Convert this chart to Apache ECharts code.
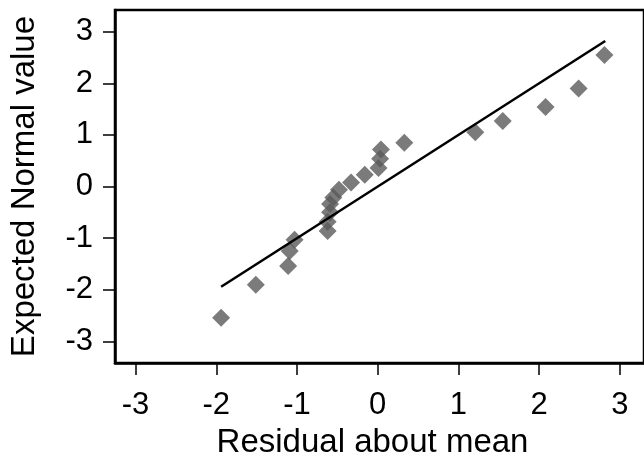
<!DOCTYPE html>
<html><head><meta charset="utf-8">
<script src="https://cdn.jsdelivr.net/npm/echarts@6/dist/echarts.min.js"></script>
<style>html,body{margin:0;padding:0;background:#fff}#c{width:644px;height:464px}</style>
</head><body><div id="c"></div>
<script>
const residual = [-1.94, -1.51, -1.11, -1.09, -1.03, -0.62, -0.62, -0.59, -0.59, -0.55, -0.48, -0.33, -0.16, 0.01, 0.03, 0.04, 0.33, 1.21, 1.55, 2.08, 2.49, 2.81];
const expectedNormal = [-2.54, -1.90, -1.54, -1.25, -1.03, -0.86, -0.68, -0.50, -0.34, -0.21, -0.06, 0.08, 0.23, 0.36, 0.54, 0.72, 0.85, 1.05, 1.27, 1.54, 1.90, 2.55];
const refLineX = [-1.94, 2.82];
const refLineY = [-1.94, 2.82];
const xTicks = [-3, -2, -1, 0, 1, 2, 3];
const yTicks = [-3, -2, -1, 0, 1, 2, 3];

const font = 'Liberation Sans, Arial, sans-serif';
const chart = echarts.init(document.getElementById('c'), null, {renderer: 'canvas'});
chart.setOption({
  animation: false,
  backgroundColor: '#fff',
  grid: {left: 114, top: 10, right: -2, bottom: 91, show: true, borderColor: '#000', borderWidth: 2.5, backgroundColor: 'transparent'},
  xAxis: {
    type: 'value', min: -3.255, max: 3.3,
    name: 'Residual about mean', nameLocation: 'middle', nameGap: 57,
    nameTextStyle: {fontFamily: font, fontSize: 33, color: '#000', padding: [0, 14, 0, 0]},
    axisLine: {show: true, onZero: false, lineStyle: {color: '#000', width: 2.5}},
    axisTick: {show: true, length: 12, lineStyle: {color: '#000', width: 1.5}, customValues: xTicks},
    axisLabel: {fontFamily: font, fontSize: 31, color: '#000', margin: 27, customValues: xTicks, formatter: v => String(v)},
    splitLine: {show: false}
  },
  yAxis: {
    type: 'value', min: -3.42, max: 3.42,
    name: 'Expected Normal value', nameLocation: 'middle', nameGap: 74,
    nameTextStyle: {fontFamily: font, fontSize: 33, color: '#000'},
    axisLine: {show: true, onZero: false, lineStyle: {color: '#000', width: 2.5}},
    axisTick: {show: true, length: 12, lineStyle: {color: '#000', width: 1.5}, customValues: yTicks},
    axisLabel: {fontFamily: font, fontSize: 31, color: '#000', margin: 22, customValues: yTicks, formatter: v => String(v)},
    splitLine: {show: false}
  },
  series: [
    {
      type: 'line', data: refLineX.map((x, i) => [x, refLineY[i]]),
      symbol: 'none', lineStyle: {color: '#000', width: 2.5}, z: 3
    },
    {
      type: 'scatter', data: residual.map((x, i) => [x, expectedNormal[i]]),
      symbol: 'diamond', symbolSize: [18, 18],
      itemStyle: {color: '#5a5a5a'}, z: 2
    }
  ]
});
</script></body></html>
